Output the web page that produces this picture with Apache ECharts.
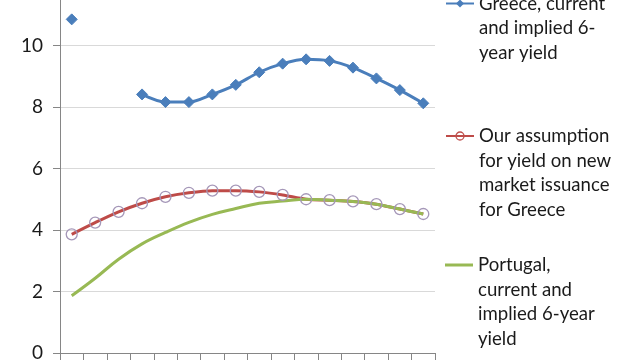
<!DOCTYPE html>
<html>
<head>
<meta charset="utf-8">
<script src="https://cdn.jsdelivr.net/npm/echarts@6/dist/echarts.min.js"></script>
<style>html,body{margin:0;padding:0;background:#fff}#c{width:620px;height:360px}</style>
</head>
<body>
<div id="c"></div>
<script>
var categories = ['1','2','3','4','5','6','7','8','9','10','11','12','13','14','15','16'];
var greeceYield = [10.85, null, null, 8.41, 8.16, 8.16, 8.41, 8.72, 9.13, 9.41, 9.55, 9.5, 9.28, 8.93, 8.55, 8.12];
var assumptionYield = [3.86, 4.24, 4.59, 4.87, 5.08, 5.21, 5.28, 5.28, 5.24, 5.14, 5.0, 4.97, 4.93, 4.84, 4.68, 4.52];
var portugalYield = [1.86, 2.43, 3.05, 3.55, 3.92, 4.25, 4.51, 4.7, 4.87, 4.94, 5.0, 4.97, 4.93, 4.84, 4.68, 4.52];
var seriesNames = ['Greece, current\nand implied 6-\nyear yield', 'Our assumption\nfor yield on new\nmarket issuance\nfor Greece', 'Portugal,\ncurrent and\nimplied 6-year\nyield'];
var yTicks = [0, 2, 4, 6, 8, 10, 12];

var FONT = 'Lato';
var LH = 24.5;
function legendFor(name, firstLineY, extra) {
  var n = name.split('\n').length;
  var pad = new Array(n).join('\n');
  var item = {name: name};
  if (extra) { for (var k in extra) item[k] = extra[k]; }
  return {
    data: [item],
    orient: 'vertical',
    left: 445,
    top: firstLineY - (n - 1) * LH - LH / 2,
    padding: 0,
    itemWidth: 28,
    itemHeight: 10,
    selectedMode: false,
    formatter: function (nm) { return pad + nm; },
    textStyle: {fontFamily: FONT, fontSize: 18.6, color: '#1a1a1a', lineHeight: LH}
  };
}

var chart = echarts.init(document.getElementById('c'), null, {renderer: 'canvas'});
chart.setOption({
  animation: false,
  grid: {left: 60, right: 185, top: -16, bottom: 7, containLabel: false, outerBoundsMode: 'none'},
  legend: [
    legendFor(seriesNames[0], 3.5),
    legendFor(seriesNames[1], 136, {itemStyle: {borderColor: '#C0504D', borderWidth: 1.3}}),
    legendFor(seriesNames[2], 265, {icon: 'path://M0,0 L28,0 L28,3 L0,3 Z'})
  ],
  xAxis: {
    type: 'category', data: categories, boundaryGap: true,
    axisLine: {lineStyle: {color: '#868686', width: 1}},
    axisTick: {show: true, length: 7, lineStyle: {color: '#868686'}},
    axisLabel: {show: false}
  },
  yAxis: {
    type: 'value', min: yTicks[0], max: yTicks[yTicks.length - 1], interval: 2,
    axisLine: {show: true, lineStyle: {color: '#868686', width: 1}},
    axisTick: {show: true, length: 7, lineStyle: {color: '#868686'}},
    axisLabel: {fontFamily: FONT, fontSize: 19, color: '#1a1a1a', margin: 17},
    splitLine: {lineStyle: {color: '#d9d9d9', width: 1}}
  },
  series: [
    {
      name: seriesNames[0], type: 'line', data: greeceYield, smooth: 0.3, connectNulls: false,
      symbol: 'diamond', symbolSize: 11, showSymbol: true,
      lineStyle: {color: '#4A7EBB', width: 3},
      itemStyle: {color: '#4A7EBB', borderColor: '#4A7EBB'}
    },
    {
      name: seriesNames[1], type: 'line', data: assumptionYield, smooth: 0.3,
      symbol: 'circle', symbolSize: 11, showSymbol: true,
      lineStyle: {color: '#BE4B48', width: 3},
      itemStyle: {color: 'rgba(255,255,255,0)', borderColor: '#A597B8', borderWidth: 1.3}
    },
    {
      name: seriesNames[2], type: 'line', data: portugalYield, smooth: 0.4,
      symbol: 'none', showSymbol: false,
      lineStyle: {color: '#98B954', width: 3},
      itemStyle: {color: '#98B954'}
    }
  ]
});
</script>
</body>
</html>
